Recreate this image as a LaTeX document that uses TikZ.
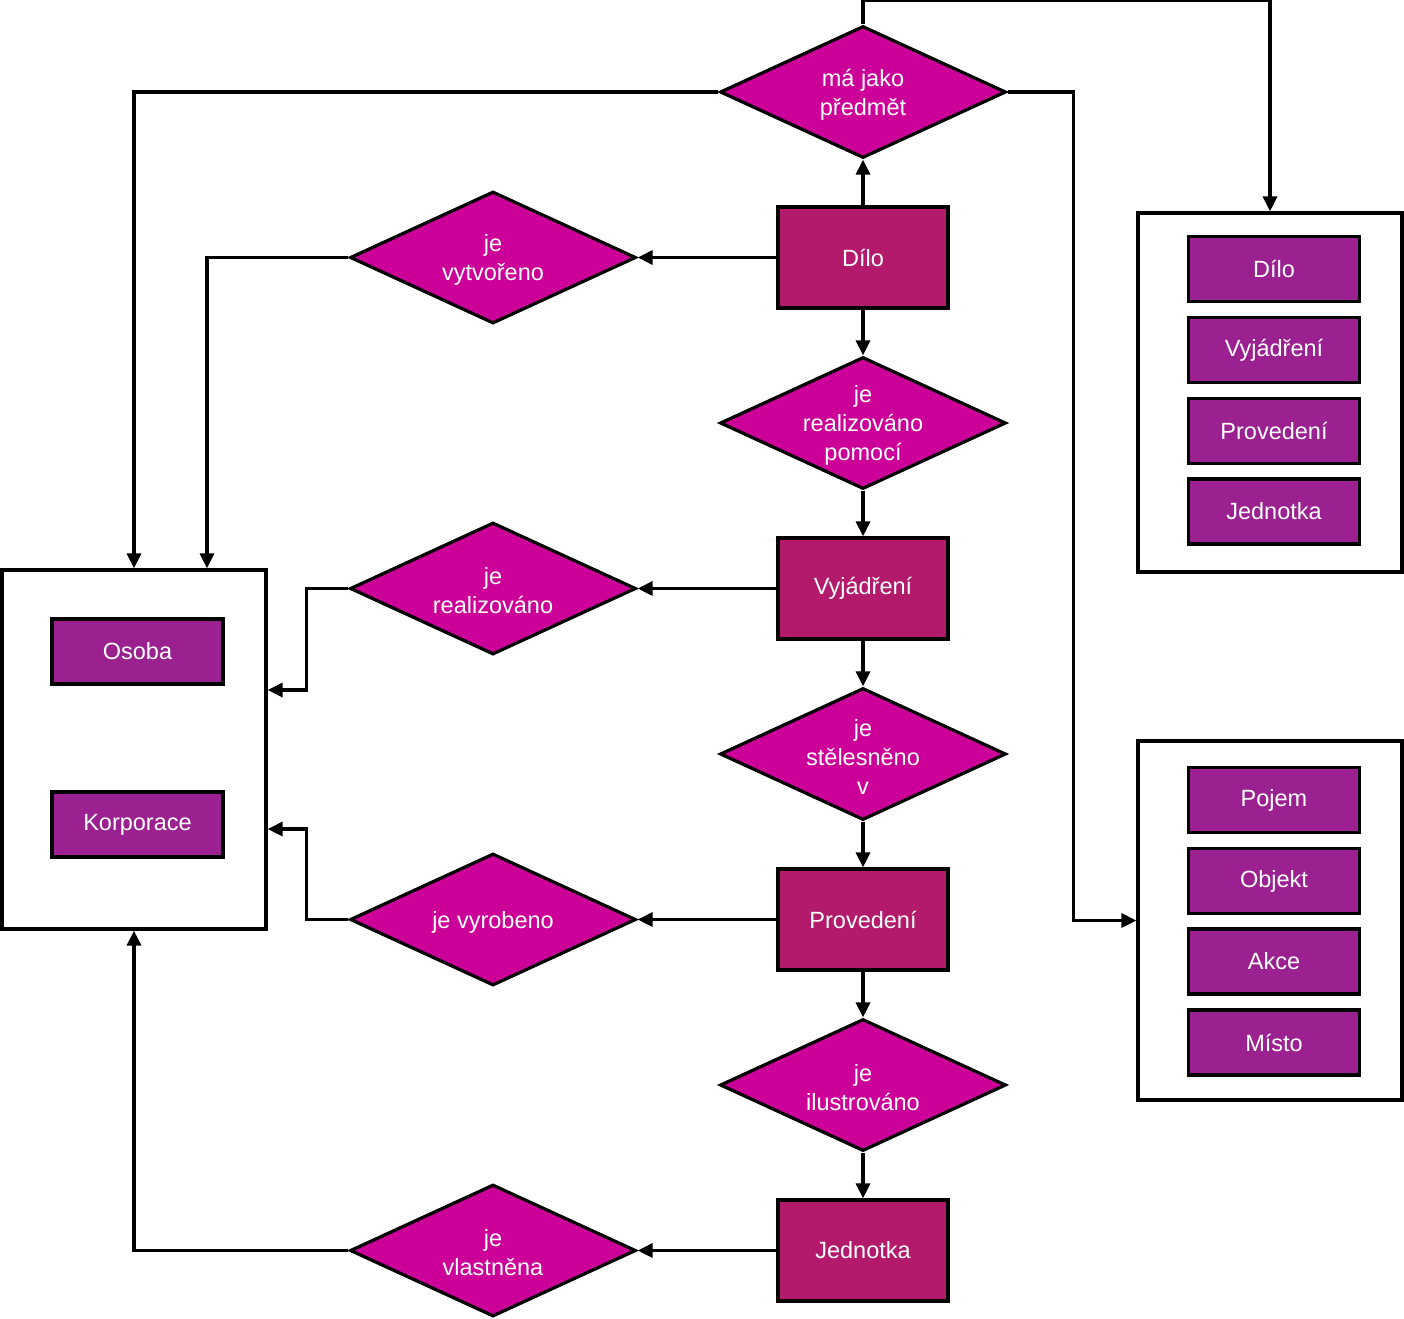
\documentclass[tikz,border=0pt]{standalone}
\usepackage{fontspec}
\setmainfont{Liberation Sans}
\usetikzlibrary{arrows.meta,shapes.geometric}
\definecolor{vztah}{HTML}{CC0099}
\definecolor{entita}{HTML}{B31A6B}
\definecolor{prvek}{HTML}{9B2191}

\begin{document}
\begin{tikzpicture}[x=1pt,y=-1pt,>={Triangle[length=15pt,width=14pt]},line width=3.2pt,node distance=165.5pt,
  every node/.style={font=\fontsize{23.5}{29}\selectfont,text=white},
  every label/.style={yshift=-2.5pt},
  rel/.style={diamond,draw,fill=vztah,minimum width=286pt,minimum height=132pt,inner sep=0pt},
  ent/.style={rectangle,draw,fill=entita,minimum width=170pt,minimum height=101pt},
  prv/.style={rectangle,draw,fill=prvek,minimum width=171pt,minimum height=65pt},
  grp/.style={rectangle,draw,fill=white,minimum width=264pt,minimum height=359pt}]
  \useasboundingbox (0,0) rectangle (1404,1318);

  % hlavni sloupec
  \node[rel,label={[align=center]center:{má jako\\předmět}}] (predmet) at (863,92) {};
  \node[ent] (dilo) [below of=predmet] {Dílo};
  \node[rel,label={[align=center]center:{je\\realizováno\\pomocí}}] (pomoci) [below of=dilo] {};
  \node[ent] (vyjadreni) [below of=pomoci] {Vyjádření};
  \node[rel,label={[align=center]center:{je\\stělesněno\\v}}] (stelesneno) [below of=vyjadreni] {};
  \node[ent] (provedeni) [below of=stelesneno] {Provedení};
  \node[rel,label={[align=center]center:{je\\ilustrováno}}] (ilustrovano) [below of=provedeni] {};
  \node[ent] (jednotka) [below of=ilustrovano] {Jednotka};

  % vztahy vlevo
  \node[rel,label={[align=center]center:{je\\vytvořeno}}] (vytvoreno) [node distance=370pt,left of=dilo] {};
  \node[rel,label={[align=center]center:{je\\realizováno}}] (realizovano) [node distance=370pt,left of=vyjadreni] {};
  \node[rel,label={[align=center]center:{je vyrobeno}}] (vyrobeno) [node distance=370pt,left of=provedeni] {};
  \node[rel,label={[align=center]center:{je\\vlastněna}}] (vlastneno) [node distance=370pt,left of=jednotka] {};

  % skupiny
  \node[grp] (osoby) at (134,749.5) {};
  \node[prv] (osoba) at (137.5,651.5) {Osoba};
  \node[prv] (korporace) at (137.5,824.5) {Korporace};

  \node[grp] (seznamA) at (1270,392.5) {};
  \node[prv] (dilo2) at (1274,269) {Dílo};
  \node[prv] (vyjadreni2) at (1274,350) {Vyjádření};
  \node[prv] (provedeni2) at (1274,431) {Provedení};
  \node[prv] (jednotka2) at (1274,511.5) {Jednotka};

  \node[grp] (seznamB) at (1270,920.5) {};
  \node[prv] (pojem) at (1274,800) {Pojem};
  \node[prv] (objekt) at (1274,881) {Objekt};
  \node[prv] (akce) at (1274,961.5) {Akce};
  \node[prv] (misto) at (1274,1042.5) {Místo};

  \draw[->] (dilo) -- (predmet);
  \draw[->] (dilo) -- (pomoci);
  \draw[->] (pomoci) -- (vyjadreni);
  \draw[->] (vyjadreni) -- (stelesneno);
  \draw[->] (stelesneno) -- (provedeni);
  \draw[->] (provedeni) -- (ilustrovano);
  \draw[->] (ilustrovano) -- (jednotka);

  \draw[->] (dilo) -- (vytvoreno);
  \draw[->] (vyjadreni) -- (realizovano);
  \draw[->] (provedeni) -- (vyrobeno);
  \draw[->] (jednotka) -- (vlastneno);

  \draw[->] (predmet.north) -- ++(0,-24) -| (seznamA.north);
  \draw[->] (predmet.west) -| (osoby.north);
  \draw[->] (predmet.east) -- ++(66,0) |- (seznamB.west);
  \draw[->] (vytvoreno.west) -| ([xshift=73pt]osoby.north);
  \draw[->] (realizovano.west) -- ++(-42,0) |- ([yshift=59.5pt]osoby.east);
  \draw[->] (vyrobeno.west) -- ++(-42,0) |- ([yshift=-79.5pt]osoby.east);
  \draw[->] (vlastneno.west) -| (osoby.south);
\end{tikzpicture}
\end{document}
